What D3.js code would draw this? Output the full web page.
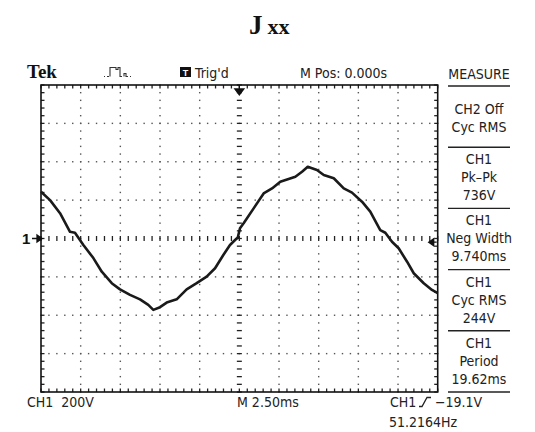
<!DOCTYPE html>
<html>
<head>
<meta charset="utf-8">
<script src="https://cdn.jsdelivr.net/npm/d3@7"></script>
<style>
  html, body { margin: 0; padding: 0; background: #fff; }
  svg { display: block; }
  .ui { font-family: "Liberation Sans Narrow", "DejaVu Sans Condensed", "Arial Narrow", sans-serif; font-size: 14px; fill: #222; }
</style>
</head>
<body>
<svg class="svg" width="535" height="432"></svg>
<script>
// trace of CH1, time in ms (M Pos 0 at centre), volts
const timeMs = [-12.5, -11.93, -11.3, -10.67, -10.36, -9.83, -9.2, -8.67, -8.04, -7.52, -6.89, -6.26, -5.74, -5.42,
  -5.0, -4.58, -3.95, -3.32, -2.69, -2.06, -1.53, -1.01, -0.59, -0.27, -0.1, 0.04, 0.27, 0.9, 1.53, 2.06, 2.58,
  3.53, 3.95, 4.31, 4.89, 5.32, 5.95, 6.58, 7.1, 7.73, 8.25, 8.88, 9.2, 9.62, 10.04, 10.57, 10.99, 11.62, 12.14, 12.5];
const volts = [244, 200, 132, 35, 30, -34, -102, -173, -233, -265, -294, -317, -346, -372,
  -358, -334, -317, -265, -233, -199, -155, -86, -34, -8, 5, 53, 79, 157, 235, 261, 296,
  322, 348, 374, 357, 331, 314, 261, 239, 192, 140, 44, 30, -17, -51, -121, -181, -233, -268, -285];

const voltsPerDiv = 200;
const msPerDiv = 2.5;
const trigLevel = -19.1;

const headerItems = ["Trig'd", "M Pos: 0.000s"];
const measureBoxes = [
  ["CH2 Off", "Cyc RMS"],
  ["CH1", "Pk\u2013Pk", "736V"],
  ["CH1", "Neg Width", "9.740ms"],
  ["CH1", "Cyc RMS", "244V"],
  ["CH1", "Period", "19.62ms"]
];
const footerItems = ["CH1  200V", "M 2.50ms", "CH1", "\u221219.1V", "51.2164Hz"];

const svg = d3.select('.svg');
const x = d3.scaleLinear().domain([-5 * msPerDiv, 5 * msPerDiv]).range([41, 437.7]);
const y = d3.scaleLinear().domain([-4 * voltsPerDiv, 4 * voltsPerDiv]).range([392, 85]);

const xDivs = d3.range(-5, 6).map(d => d * msPerDiv);
const yDivs = d3.range(-4, 5).map(d => d * voltsPerDiv);
const xMinor = d3.range(-25, 26).map(d => d * msPerDiv / 5);
const yMinor = d3.range(-20, 21).map(d => d * voltsPerDiv / 5);

// title
svg.append('text').attr('x', 249).attr('y', 34)
    .style('font-family', '"Liberation Serif", "DejaVu Serif", serif').style('font-weight', 'bold')
    .attr('fill', '#111')
    .call(t => {
        t.append('tspan').text('J').style('font-size', '27px')
        t.append('tspan').attr('dx', 5).text('xx').style('font-size', '22px')
    })

// header row
svg.append('text').attr('x', 27).attr('y', 78)
    .style('font-family', '"Liberation Serif", serif').style('font-weight', 'bold').style('font-size', '19px')
    .attr('fill', '#111').text('Tek')

svg.append('path')
    .attr('d', 'M104,76.5h1 M107,76.5h2 M110,76.5V67.5h6v2h2v-2h2V76.5h2 M124,76.5v-3h2v3h2 M130,76.5h1')
    .attr('fill', 'none').attr('stroke', '#333').attr('stroke-width', 1.1)

svg.append('rect').attr('x', 180).attr('y', 67).attr('width', 11).attr('height', 10).attr('fill', '#111')
svg.append('text').attr('x', 185.5).attr('y', 75.5).attr('text-anchor', 'middle')
    .style('font-family', 'Liberation Sans, sans-serif').style('font-weight', 'bold').style('font-size', '9px')
    .attr('fill', '#fff').text('T')

svg.selectAll('.hdr').data(headerItems).join('text').classed('hdr ui', true)
    .attr('x', (d, i) => [195, 300][i]).attr('y', 78).text(d => d)

svg.append('text').classed('ui', true).attr('x', 479).attr('y', 79).attr('text-anchor', 'middle').text('MEASURE')

// measure panel
const boxH = (y(-4 * voltsPerDiv) - 86) / measureBoxes.length;
const boxes = svg.selectAll('.mbox').data(measureBoxes).join('g').classed('mbox', true)
    .attr('transform', (d, i) => `translate(0,${86 + i * boxH})`)
boxes.append('line').attr('x1', 448).attr('x2', 510).attr('y1', 0).attr('y2', 0)
    .attr('stroke', '#222').attr('stroke-width', 1.4)
boxes.selectAll('text').data(d => d.map(s => ({ s, n: d.length }))).join('text').classed('ui', true)
    .attr('x', 479).attr('text-anchor', 'middle')
    .attr('y', (d, i) => (d.n === 2 ? 28 : 17) + i * 18)
    .text(d => d.s)
svg.append('line').attr('x1', 448).attr('x2', 510).attr('y1', y(-800)).attr('y2', y(-800))
    .attr('stroke', '#222').attr('stroke-width', 1.4)

// graticule
const grid = svg.append('g').attr('fill', '#555')
xDivs.filter(d => d !== 0 && Math.abs(d) < 12.5).forEach(t => {
    grid.selectAll(null).data(yMinor).join('rect')
        .attr('x', x(t) - 0.7).attr('y', v => y(v) - 0.7).attr('width', 1.4).attr('height', 1.4)
})
yDivs.filter(d => d !== 0 && Math.abs(d) < 800).forEach(v => {
    grid.selectAll(null).data(xMinor).join('rect')
        .attr('x', t => x(t) - 0.7).attr('y', y(v) - 0.7).attr('width', 1.4).attr('height', 1.4)
})

const ticks = svg.append('g').attr('stroke', '#222').attr('stroke-width', 1.3)
// centre cross
ticks.selectAll('.cx').data(xMinor).join('line').classed('cx', true)
    .attr('x1', d => x(d)).attr('x2', d => x(d)).attr('y1', y(0) - 2.5).attr('y2', y(0) + 2.5)
ticks.selectAll('.cy').data(yMinor).join('line').classed('cy', true)
    .attr('y1', d => y(d)).attr('y2', d => y(d)).attr('x1', x(0) - 2.5).attr('x2', x(0) + 2.5)
// frame ticks
ticks.selectAll('.ft').data(xMinor).join('line').classed('ft', true)
    .attr('x1', d => x(d)).attr('x2', d => x(d)).attr('y1', y(800)).attr('y2', y(800) + 3.5)
ticks.selectAll('.fb').data(xMinor).join('line').classed('fb', true)
    .attr('x1', d => x(d)).attr('x2', d => x(d)).attr('y1', y(-800)).attr('y2', y(-800) - 3.5)
ticks.selectAll('.fl').data(yMinor).join('line').classed('fl', true)
    .attr('y1', d => y(d)).attr('y2', d => y(d)).attr('x1', x(-12.5)).attr('x2', x(-12.5) + 3.5)
ticks.selectAll('.fr').data(yMinor).join('line').classed('fr', true)
    .attr('y1', d => y(d)).attr('y2', d => y(d)).attr('x1', x(12.5)).attr('x2', x(12.5) - 3.5)

svg.append('rect').attr('x', x(-12.5)).attr('y', y(800))
    .attr('width', x(12.5) - x(-12.5)).attr('height', y(-800) - y(800))
    .attr('fill', 'none').attr('stroke', '#111').attr('stroke-width', 1.6)

// markers
svg.append('path').attr('d', `M${x(0)},${y(800)}v4 M${x(0) - 4.5},${y(800) + 4}h9l-4.5,6z`)
    .attr('fill', '#111').attr('stroke', '#111').attr('stroke-width', 1.3)
svg.append('text').attr('x', 22).attr('y', y(0) + 5.5)
    .style('font-family', 'Liberation Sans, sans-serif').style('font-weight', 'bold').style('font-size', '15px')
    .attr('fill', '#111').text('1')
svg.append('path').attr('d', `M32,${y(0)}h6 M${x(-12.5) + 1},${y(0)}l-5,-3.5v7z`)
    .attr('fill', '#111').attr('stroke', '#111').attr('stroke-width', 1.3)
svg.append('path').attr('d', `M${x(12.5) - 1},${y(trigLevel)}h-5 M${x(12.5) - 9},${y(trigLevel)}l5,-3.5v7z`)
    .attr('fill', '#111').attr('stroke', '#111').attr('stroke-width', 1.3)

// trace
const trace = timeMs.map((t, i) => [t, volts[i]]);
svg.append('path').datum(trace)
    .attr('d', d3.line().x(d => x(d[0])).y(d => y(d[1])))
    .attr('fill', 'none').attr('stroke', '#1a1a1a').attr('stroke-width', 2.6).attr('stroke-linejoin', 'round')

// footer
svg.selectAll('.ftr').data(footerItems).join('text').classed('ftr ui', true)
    .attr('x', (d, i) => [27, 237, 390, 435, 389][i])
    .attr('y', (d, i) => i === 4 ? 427 : 407)
    .style('white-space', 'pre')
    .text(d => d)
svg.append('path').attr('d', 'M419,406.5h3l5,-9h4')
    .attr('fill', 'none').attr('stroke', '#222').attr('stroke-width', 1.3)
</script>
</body>
</html>
